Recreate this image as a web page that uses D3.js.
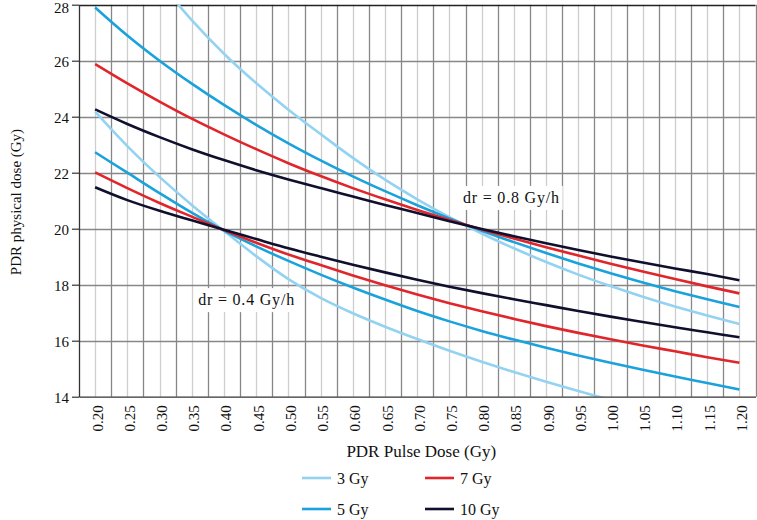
<!DOCTYPE html>
<html><head><meta charset="utf-8">
<script src="https://cdn.jsdelivr.net/npm/d3@7"></script>
<style>body{margin:0;background:#fff}svg{display:block}</style>
</head><body>
<svg id="c" width="757" height="520"></svg>
<script>
// ---- data ----
const pulseDose = [0.20,0.25,0.30,0.35,0.40,0.45,0.50,0.55,0.60,0.65,0.70,0.75,0.80,0.85,0.90,0.95,1.00,1.05,1.10,1.15,1.20];
const xTickLabels = ["0.20","0.25","0.30","0.35","0.40","0.45","0.50","0.55","0.60","0.65","0.70","0.75","0.80","0.85","0.90","0.95","1.00","1.05","1.10","1.15","1.20"];
const yTicks = [14,16,18,20,22,24,26,28];
const seriesNames = ["3 Gy","5 Gy","7 Gy","10 Gy"];
const seriesColors = ["#93d3f1","#1aa2dc","#e1262b","#10102e"];
// dr = 0.8 Gy/h
const dr08_3Gy  = [null,null,28.8,27.45,26.25,25.2,24.25,23.38,22.53,21.75,21.05,20.41,19.83,19.3,18.81,18.36,17.95,17.57,17.22,16.9,16.6];
const dr08_5Gy  = [27.9,26.9,26.0,25.18,24.42,23.71,23.05,22.44,21.87,21.34,20.84,20.37,19.93,19.52,19.13,18.76,18.41,18.08,17.77,17.48,17.2];
const dr08_7Gy  = [25.88,25.19,24.54,23.93,23.37,22.84,22.34,21.88,21.45,21.05,20.67,20.31,19.97,19.65,19.34,19.04,18.75,18.47,18.2,17.94,17.69];
const dr08_10Gy = [24.26,23.74,23.27,22.84,22.45,22.09,21.76,21.45,21.15,20.85,20.56,20.27,19.99,19.73,19.48,19.24,19.01,18.79,18.58,18.38,18.16];
// dr = 0.4 Gy/h
const dr04_3Gy  = [24.18,22.95,21.85,20.85,19.92,19.02,18.2,17.53,16.98,16.5,16.06,15.64,15.25,14.88,14.53,14.2,13.88,null,null,null,null];
const dr04_5Gy  = [22.73,22.0,21.27,20.57,19.93,19.37,18.85,18.36,17.9,17.47,17.06,16.69,16.35,16.04,15.75,15.47,15.21,14.96,14.72,14.49,14.26];
const dr04_7Gy  = [22.01,21.45,20.92,20.43,19.95,19.5,19.08,18.7,18.33,17.98,17.65,17.34,17.05,16.78,16.52,16.28,16.05,15.83,15.62,15.41,15.21];
const dr04_10Gy = [21.48,21.02,20.64,20.3,19.96,19.63,19.3,19.0,18.71,18.44,18.18,17.93,17.7,17.48,17.27,17.06,16.86,16.67,16.48,16.3,16.12];
const annotations = [
  {text:"dr = 0.4 Gy/h", x:0.360, y:17.27},
  {text:"dr = 0.8 Gy/h", x:0.771, y:20.92}
];
const xTitle = "PDR Pulse Dose (Gy)";
const yTitle = "PDR physical dose (Gy)";

// ---- chart ----
const FONT = "'Liberation Serif','Times New Roman',serif";
const svg = d3.select("#c");
const x = d3.scaleLinear().domain([0.175,1.225]).range([79,755.5]);
const y = d3.scaleLinear().domain([14,28]).range([396.7,4.7]);
const [L,R] = x.range(), [B,T] = y.range();

const grid = svg.append("g");
grid.selectAll(".vl").data(pulseDose).join("line")
  .attr("x1",d=>Math.round(x(d))+0.5).attr("x2",d=>Math.round(x(d))+0.5)
  .attr("y1",T).attr("y2",B).attr("stroke","#cdcdcd").attr("stroke-width",1.3);
const mids = pulseDose.slice(0,-1).map((d,i)=>(d+pulseDose[i+1])/2).concat([1.225]);
grid.selectAll(".vd").data(mids).join("line")
  .attr("x1",d=>Math.round(x(d))+0.5).attr("x2",d=>Math.round(x(d))+0.5)
  .attr("y1",T).attr("y2",B).attr("stroke","#878787").attr("stroke-width",1.3);
grid.selectAll(".h").data(yTicks.filter(v=>v>14&&v<28)).join("line")
  .attr("x1",L).attr("x2",R).attr("y1",d=>Math.round(y(d))+0.5).attr("y2",d=>Math.round(y(d))+0.5)
  .attr("stroke","#878787").attr("stroke-width",1.3);
grid.append("line").attr("x1",L).attr("x2",R).attr("y1",Math.round(T)+0.5).attr("y2",Math.round(T)+0.5)
  .attr("stroke","#222").attr("stroke-width",1.3);

// annotations with white boxes
const ann = svg.append("g");
annotations.forEach(a=>{
  const g = ann.append("g");
  const t = g.append("text").attr("x",x(a.x)).attr("y",y(a.y))
    .attr("font-family",FONT).attr("font-size",16).attr("letter-spacing","0.8px")
    .attr("fill","#111").text(a.text);
  const bb = t.node().getBBox();
  g.insert("rect","text").attr("x",bb.x-3).attr("y",bb.y-3).attr("width",bb.width+6).attr("height",bb.height+6).attr("fill","#fff");
});

// curves
svg.append("clipPath").attr("id","clip").append("rect").attr("x",L).attr("y",T).attr("width",R-L).attr("height",B-T);
const line = d3.line().defined(d=>d[1]!=null).x(d=>x(d[0])).y(d=>y(d[1])).curve(d3.curveMonotoneX);
const curves = svg.append("g").attr("clip-path","url(#clip)");
const sets = [
  [dr08_3Gy,dr08_5Gy,dr08_7Gy,dr08_10Gy],
  [dr04_3Gy,dr04_5Gy,dr04_7Gy,dr04_10Gy]
];
sets.forEach(set=>set.forEach((vals,i)=>{
  curves.append("path").datum(pulseDose.map((p,j)=>[p,vals[j]]))
    .attr("d",line).attr("fill","none").attr("stroke",seriesColors[i]).attr("stroke-width",2.6);
}));

// axes
const ya = svg.append("g").attr("transform",`translate(${L},0)`)
  .call(d3.axisLeft(y).tickValues(yTicks).tickSize(7).tickSizeOuter(0).tickPadding(3).tickFormat(d3.format("d")));
ya.select(".domain").attr("stroke","#333").attr("stroke-width",1.3);
ya.selectAll(".tick line").attr("stroke","#333").attr("stroke-width",1.2);
ya.selectAll("text").attr("font-family",FONT).attr("font-size",15).attr("fill","#111")
  .attr("dy",d=>d===28?"8px":"6px");

const xa = svg.append("g").attr("transform",`translate(0,${B})`)
  .call(d3.axisBottom(x).tickValues(pulseDose).tickSize(0).tickSizeOuter(0).tickFormat((d,i)=>xTickLabels[i]));
xa.select(".domain").attr("stroke","#333").attr("stroke-width",1.3);
xa.selectAll("text").attr("font-family",FONT).attr("font-size",15).attr("fill","#111")
  .attr("transform","rotate(-90)").attr("x",-8.5).attr("y",7).attr("dy",null).style("text-anchor","end");

// titles
svg.append("text").attr("x",(L+R)/2+4).attr("y",457).attr("text-anchor","middle")
  .attr("font-family",FONT).attr("font-size",17).attr("fill","#111").text(xTitle);
svg.append("text").attr("transform",`translate(21,202) rotate(-90)`).attr("text-anchor","middle")
  .attr("font-family",FONT).attr("font-size",15).attr("fill","#111").text(yTitle);

// legend
const legPos = [[302,478],[302,509],[425,478],[425,509]];
const leg = svg.append("g");
seriesNames.forEach((n,i)=>{
  const [lx,ly] = legPos[i];
  leg.append("line").attr("x1",lx).attr("x2",lx+29).attr("y1",ly).attr("y2",ly)
    .attr("stroke",seriesColors[i]).attr("stroke-width",2.6);
  leg.append("text").attr("x",lx+35).attr("y",ly+5.5).attr("font-family",FONT).attr("font-size",16)
    .attr("fill","#111").text(n);
});
</script>
</body></html>
